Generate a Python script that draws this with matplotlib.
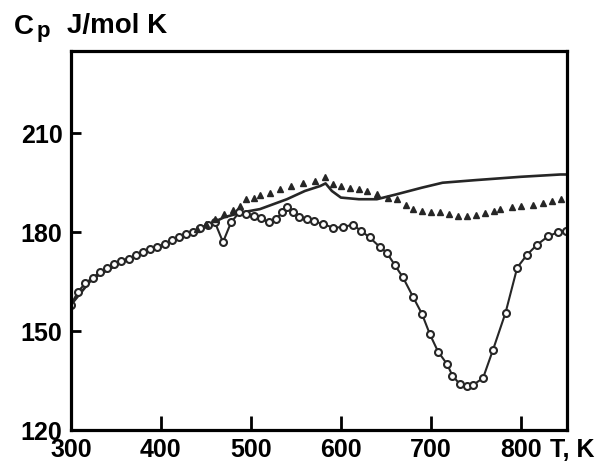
import numpy as np
import matplotlib
matplotlib.use('Agg')
import matplotlib.pyplot as plt
from matplotlib.transforms import blended_transform_factory

# open circles with line
t_circ = [300, 308, 316, 324, 332, 340, 348, 356, 364, 372, 380, 388, 396, 404,
          412, 420, 428, 436, 444, 452, 460, 469, 478, 487, 495, 503, 511, 520,
          528, 535, 540, 547, 554, 562, 570, 580, 591, 602, 613, 622, 632, 643,
          651, 660, 669, 680, 690, 699, 708, 718, 724, 732, 740, 747, 758, 769,
          783, 796, 807, 818, 830, 841, 850]
cp_circ = [158, 162, 164.5, 166.2, 167.8, 169, 170.3, 171.2, 172, 173, 174, 174.8,
           175.6, 176.4, 177.5, 178.5, 179.4, 180.2, 181.2, 182.3, 183, 177, 183,
           186, 185.5, 184.8, 184.2, 183, 184, 186, 187.5, 186, 184.5, 184, 183.3,
           182.5, 181.4, 181.5, 182.3, 180.5, 178.4, 175.6, 173.8, 170, 166.3,
           160.5, 155.3, 149, 143.8, 140, 136.5, 134, 133.5, 133.7, 135.8, 144.3,
           155.6, 169.3, 173.2, 176.2, 178.7, 180, 180.5]

# plain solid line
t_line = [300, 324, 362, 399, 436, 455, 470, 490, 510, 540, 560, 577, 583, 590,
          600, 620, 640, 662, 690, 713, 750, 800, 844, 850]
cp_line = [158, 166, 171.7, 175.6, 180.2, 182.5, 184.5, 186, 187, 190, 192.5, 194,
           194.8, 192.5, 190.5, 190, 190, 191.5, 193.5, 195, 195.8, 196.8, 197.5, 197.5]

# filled dots, no line
t_dot = [440, 450, 460, 470, 480, 488, 495, 503, 510, 521, 532, 545, 558, 571, 582,
         591, 600, 610, 620, 629, 640, 652, 662, 672, 680, 690, 700, 710, 720, 730,
         740, 750, 760, 770, 777, 790, 800, 813, 825, 835, 845]
cp_dot = [181, 182.5, 184, 185.5, 186.8, 187.8, 190, 190.5, 191.4, 192, 193, 194,
          195, 195.4, 196.6, 194.5, 194, 193.5, 193, 192.4, 191.5, 190.5, 190, 188.2,
          187, 186.5, 186.2, 186, 185.5, 185, 184.8, 185.3, 185.8, 186.5, 187, 187.5,
          188, 188.4, 189, 189.5, 190]

x_ticks = [300, 400, 500, 600, 700, 800]
y_ticks = [120, 150, 180, 210]

plt.rcParams['font.family'] = ['Liberation Sans', 'DejaVu Sans']
plt.rcParams['font.weight'] = 'bold'

fig = plt.figure(figsize=(6.01, 4.66), dpi=100)
ax = fig.add_axes([0.118, 0.077, 0.825, 0.814])

ink = '#262626'
ax.plot(t_line, cp_line, '-', color=ink, lw=1.9)
ax.plot(t_circ, cp_circ, '-', color=ink, lw=1.5, marker='o', ms=5,
        mfc='white', mec=ink, mew=1.5)
ax.plot(t_dot, cp_dot, linestyle='none', marker='^', ms=5, color=ink)

ax.set_xlim(300, 851)
ax.set_ylim(120, 235)
ax.set_xticks(x_ticks)
ax.set_yticks(y_ticks)
ax.tick_params(axis='x', direction='in', length=10, width=2, pad=6, labelsize=18)
ax.tick_params(axis='y', direction='in', length=7, width=2, pad=6, labelsize=18)
for lab in ax.get_xticklabels() + ax.get_yticklabels():
    lab.set_fontweight('bold')
for s in ax.spines.values():
    s.set_linewidth(2.3)

tr = blended_transform_factory(ax.transData, ax.transAxes)
ax.text(832, -0.021, 'T, K', transform=tr, ha='left', va='top',
        fontsize=18, fontweight='bold')

fig.text(14 / 601, 1 - 34 / 466, 'C', fontsize=20, fontweight='bold', ha='left', va='baseline')
fig.text(37 / 601, 1 - 37 / 466, 'p', fontsize=16, fontweight='bold', ha='left', va='baseline')
fig.text(67 / 601, 1 - 33 / 466, 'J/mol K', fontsize=20, fontweight='bold', ha='left', va='baseline')

fig.savefig('out.png', dpi=100)
